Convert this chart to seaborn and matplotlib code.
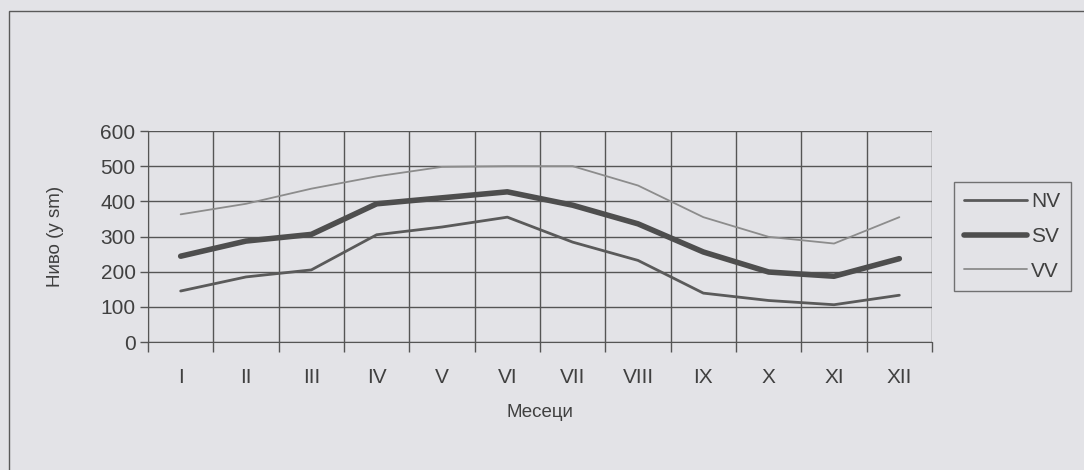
import numpy as np
import pandas as pd
import matplotlib
matplotlib.use("Agg")
import matplotlib.pyplot as plt
from matplotlib.patches import Rectangle
from matplotlib.ticker import FixedLocator
import seaborn as sns

months = ["I", "II", "III", "IV", "V", "VI", "VII", "VIII", "IX", "X", "XI", "XII"]
nv = [145, 185, 205, 305, 327, 355, 284, 232, 139, 118, 106, 133]
sv = [244, 287, 306, 393, 410, 427, 389, 336, 256, 199, 187, 237]
vv = [363, 393, 436, 471, 498, 500, 500, 445, 355, 299, 280, 355]
series_names = ["NV", "SV", "VV"]

df = pd.DataFrame({"month": months * 3,
                   "value": nv + sv + vv,
                   "series": np.repeat(series_names, len(months))})

sns.set_style("white")
plt.rcParams["font.family"] = ["Liberation Sans", "DejaVu Sans"]

bg = "#e3e3e7"
txt = "#404040"
fig = plt.figure(figsize=(10.84, 4.70), dpi=100, facecolor=bg)
# outer chart frame
fig.patches.append(Rectangle((9 / 1084, -0.02), 1.1, 1 - 11 / 470 + 0.02,
                             transform=fig.transFigure, fill=False,
                             edgecolor="#5a5a5a", lw=1.0))

ax = fig.add_axes([148 / 1084, 1 - 342 / 470, (932 - 148) / 1084, (342 - 131) / 470])
ax.set_facecolor(bg)

styles = {"NV": ("#5a5a5a", 2.0), "SV": ("#4e4e4e", 4.0), "VV": ("#8c8c8c", 1.3)}
for name in series_names:
    col, lw = styles[name]
    sns.lineplot(data=df[df.series == name], x="month", y="value", ax=ax,
                 color=col, lw=lw, label=name, sort=False)

ax.set_xlim(-0.5, len(months) - 0.5)
ax.set_ylim(0, 600)
ax.set_yticks(range(0, 601, 100))
ax.xaxis.set_minor_locator(FixedLocator(np.arange(-0.5, len(months), 1.0)))
ax.grid(True, which="minor", axis="x", color="#555555", lw=1.0)
ax.grid(True, which="major", axis="y", color="#555555", lw=1.0)
ax.grid(False, which="major", axis="x")
ax.tick_params(axis="x", which="major", bottom=True, length=0, pad=19,
               labelsize=15, labelcolor=txt)
ax.tick_params(axis="x", which="minor", bottom=True, length=7, width=1,
               color="#555555", direction="out")
ax.tick_params(axis="y", left=True, length=6, width=1, color="#555555",
               labelsize=15, labelcolor=txt, pad=3)
for side in ["top", "right"]:
    ax.spines[side].set_visible(False)
ax.spines["left"].set_color("#555555")
ax.spines["bottom"].set_color("#555555")

ax.set_xlabel("Месеци", fontsize=13.5, color=txt, labelpad=12)
ax.set_ylabel("Ниво (у sm)", fontsize=13.5, color=txt, labelpad=26)

leg = ax.legend(loc="upper left", bbox_to_anchor=(954 / 1084, 1 - 182 / 470),
                bbox_transform=fig.transFigure, frameon=True, fancybox=False,
                fontsize=15, handlelength=3.0, handletextpad=0.2,
                labelspacing=0.75, borderpad=0.5, borderaxespad=0)
leg.get_frame().set_edgecolor("#555555")
leg.get_frame().set_facecolor(bg)
leg.get_frame().set_linewidth(1.0)
for t in leg.get_texts():
    t.set_color(txt)

fig.savefig("out.png", dpi=100, facecolor=bg)
